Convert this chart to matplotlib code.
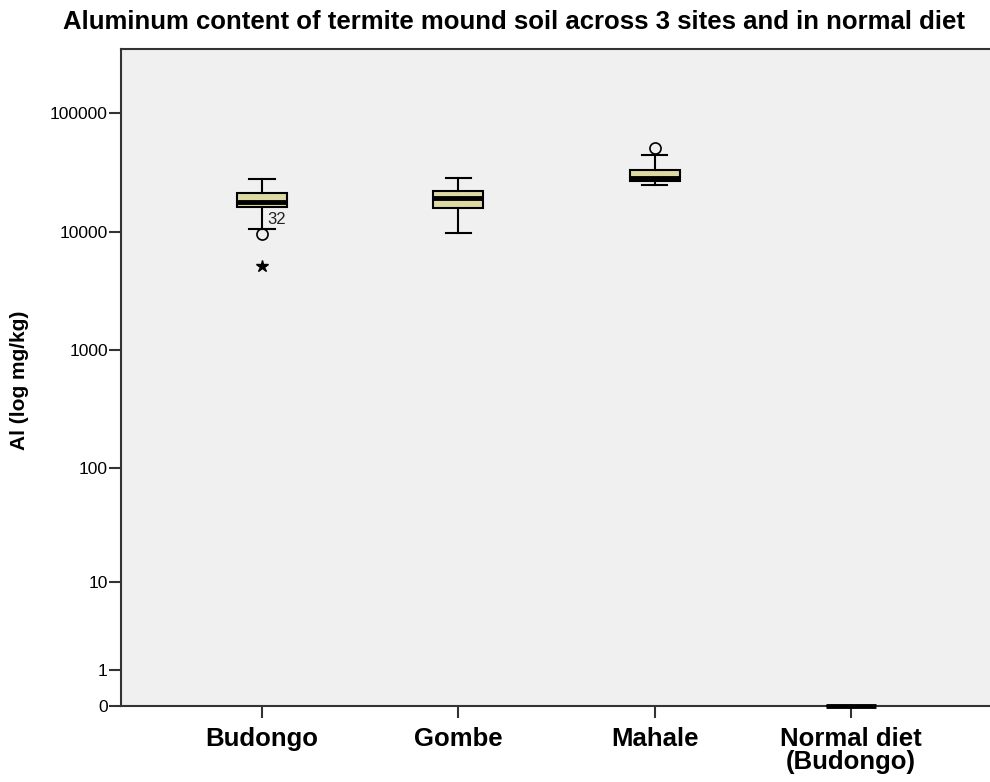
import matplotlib
matplotlib.use("Agg")
import matplotlib.pyplot as plt
import numpy as np

plt.rcParams['font.family'] = ['Liberation Sans', 'DejaVu Sans']

# groups and five-number summaries (mg/kg)
groups = ['Budongo', 'Gombe', 'Mahale', 'Normal diet\n(Budongo)']
whis_lo = [10500, 9800, 24700, 0]
q1 = [16100, 15700, 26900, 0]
medians = [17800, 19100, 28100, 0]
q3 = [21200, 22000, 33000, 0]
whis_hi = [27800, 28100, 44300, 0]

# outliers: (group index, value, kind, label)
out_idx = [0, 0, 2]
out_val = [9600, 5100, 50400]
out_kind = ['o', '*', 'o']
out_label = ['32', '', '']

y_ticks = [0, 1, 10, 100, 1000, 10000, 100000]


def fwd(x):
    return np.log10(np.clip(x, 0, None) + 1)


def inv(y):
    return 10 ** y - 1


fig = plt.figure(figsize=(9.9, 7.82), dpi=100)
ax = fig.add_axes([0.1222, 0.0972, 0.8778, 0.8401])
ax.set_facecolor('#F0F0F0')
ax.set_yscale('function', functions=(fwd, inv))

stats = []
for i, g in enumerate(groups):
    stats.append(dict(med=medians[i], q1=q1[i], q3=q3[i],
                      whislo=whis_lo[i], whishi=whis_hi[i], fliers=[]))

bp = ax.bxp(stats, positions=range(len(groups)), widths=0.255, patch_artist=True,
            showfliers=False,
            boxprops=dict(facecolor='#DDD9A3', edgecolor='black', linewidth=1.5),
            medianprops=dict(color='black', linewidth=3.5),
            whiskerprops=dict(color='black', linewidth=1.5),
            capprops=dict(color='black', linewidth=1.5),
            capwidths=0.13)
for key in bp:
    for art in bp[key]:
        art.set_clip_on(False)
        art.set_zorder(3)

# outliers drawn separately (circle = outlier, star = extreme)
for i, v, k, lab in zip(out_idx, out_val, out_kind, out_label):
    if k == 'o':
        ax.plot(i, v, marker='o', markersize=8, markerfacecolor='none',
                markeredgecolor='black', markeredgewidth=1.2, zorder=4)
    else:
        ax.plot(i, v, marker='*', markersize=9, color='black', zorder=4)
    if lab:
        ax.text(i + 0.025, v * 1.33, lab, fontsize=12, color='#222222',
                ha='left', va='center')

ax.set_xlim(-0.72, 3.71)
ax.set_ylim(0, inv(5.54))
ax.set_yticks(y_ticks)
ax.set_yticklabels([str(t) for t in y_ticks], fontsize=12.5)
ax.minorticks_off()
ax.set_xticks(range(len(groups)))
ax.set_xticklabels(groups, fontsize=18.5, fontweight='bold', linespacing=0.95)

for s in ['left', 'bottom', 'top']:
    ax.spines[s].set_color('#333333')
    ax.spines[s].set_linewidth(1.5)
ax.spines['right'].set_visible(False)
ax.tick_params(axis='both', direction='out', length=8.5, width=1.5,
               color='#333333')
ax.tick_params(axis='x', pad=6.5)
ax.tick_params(axis='y', pad=1)

fig.text(0.519, 0.972, 'Aluminum content of termite mound soil across 3 sites and in normal diet',
         ha='center', va='center', fontsize=18.5, fontweight='bold')
fig.text(0.02, 0.514, 'Al (log mg/kg)', rotation=90, ha='center', va='center',
         fontsize=15, fontweight='bold')

fig.savefig('out.png', dpi=100)
